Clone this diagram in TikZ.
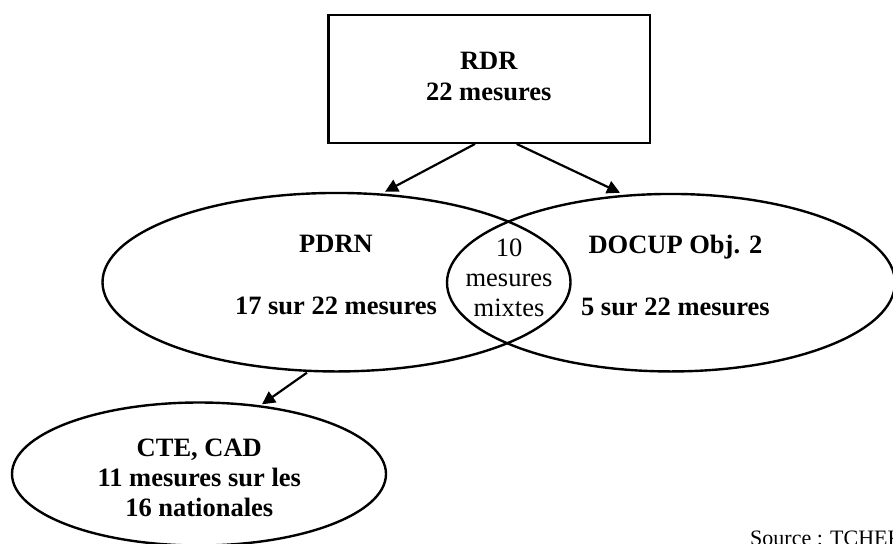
\documentclass[tikz,border=0pt]{standalone}
\usepackage{fontspec}
\setmainfont{Liberation Serif}
\usetikzlibrary{shapes.geometric,arrows.meta}
\begin{document}
\begin{tikzpicture}[x=1pt,y=-1pt,
  box/.style={draw, line width=2.4pt, minimum width=321.7pt, minimum height=127.7pt, inner sep=0pt},
  oval/.style={draw, ellipse, line width=2.4pt, inner sep=0pt},
  lbl/.style={font=\fontsize{26.5}{30.5}\selectfont\bfseries, anchor=base, inner sep=0pt},
  plainlbl/.style={font=\fontsize{26.5}{30.5}\selectfont, anchor=base, inner sep=0pt},
  srclbl/.style={font=\fontsize{22}{26}\selectfont, anchor=base west, inner sep=0pt},
  arr/.style={-{Triangle[length=13pt,width=13pt]}, line width=2.2pt}]
\useasboundingbox (0,0) rectangle (893,543);
\clip (0,0) rectangle (893,543);
\fill[white] (0,0) rectangle (893,543);

\node[box] (rdr) at (489.2,78.9) {};
\node[oval, minimum width=468pt, minimum height=178.5pt] (pdrn) at (336.5,282.2) {};
\node[oval, minimum width=448pt, minimum height=177.5pt] (docup) at (671,282.7) {};
\node[oval, minimum width=374pt, minimum height=143pt] (cte) at (199,474) {};

\node[lbl] (rdrA) at (488.8,70) {RDR};
\node[lbl] (rdrB) at (488.8,100.7) {22 mesures};
\node[lbl] (pdrnA) at (336,252.8) {PDRN};
\node[lbl] (pdrnB) at (336,314.6) {17 sur 22 mesures};
\node[lbl] (docA) at (675.4,253.3) {DOCUP Obj. 2};
\node[lbl] (docB) at (675.4,315.2) {5 sur 22 mesures};
\node[plainlbl] (mixA) at (509,256) {10};
\node[plainlbl] (mixB) at (509,286.5) {mesures};
\node[plainlbl] (mixC) at (509,316.6) {mixtes};
\node[lbl] (cteA) at (199.3,456.8) {CTE, CAD};
\node[lbl] (cteB) at (199.3,486.6) {11 mesures sur les};
\node[lbl] (cteC) at (199.3,516.8) {16 nationales};
\node[srclbl] (src) at (750,545.3) {Source : TCHEK};

\draw[arr] ([xshift=-14.2pt]rdr.south) -- ([xshift=48.5pt]pdrn.north);
\draw[arr] ([xshift=27.5pt]rdr.south) -- ([xshift=-51pt]docup.north);
\draw[arr] ([xshift=-29.5pt]pdrn.south) -- ([xshift=63pt,yshift=-3pt]cte.north);
\end{tikzpicture}
\end{document}
